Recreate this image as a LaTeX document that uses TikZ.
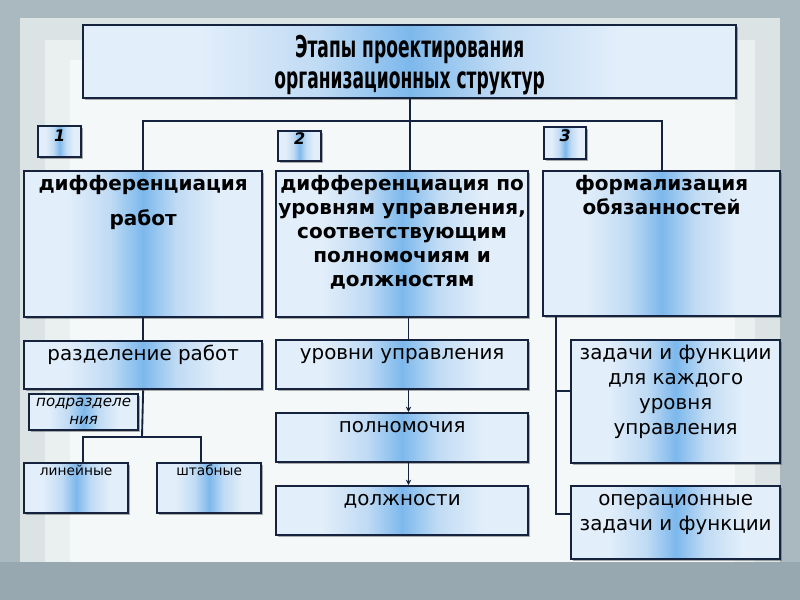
\documentclass[tikz,border=0pt]{standalone}
\usepackage{fontspec}
\setmainfont{DejaVu Sans}
\newfontfamily\titlefont[FakeStretch=0.57]{DejaVu Sans}
\usetikzlibrary{arrows.meta, shadows}

\definecolor{navy}{HTML}{15233F}
\definecolor{paleblue}{HTML}{E2EEFA}
\definecolor{softblue}{HTML}{C0DBF4}
\definecolor{deepblue}{HTML}{7DB8EC}
\definecolor{slategrey}{HTML}{AAB9BF}
\definecolor{bgmid}{HTML}{DCE3E5}
\definecolor{bglight}{HTML}{EAEFF0}
\definecolor{bgwhite}{HTML}{F5F8F9}
\definecolor{bgstrip}{HTML}{97A8B0}

\pgfdeclarehorizontalshading{streak}{100bp}{color(0bp)=(paleblue); color(25bp)=(paleblue); color(34bp)=(paleblue); color(43bp)=(softblue); color(50bp)=(deepblue); color(57bp)=(softblue); color(66bp)=(paleblue); color(75bp)=(paleblue); color(100bp)=(paleblue)}

\newlength\pxu
\setlength\pxu{0.75pt}
% box text, set from the top: [pad]{width}{height}{text}
\newcommand{\topbox}[4][2pt]{\parbox[c][#3\pxu][t]{#2\pxu}{\centering\vspace*{#1}#4}}
\newcommand{\headfont}{\bfseries\fontsize{15}{18}\selectfont\strut}
\newcommand{\bodyfont}{\fontsize{14.9}{18.75}\selectfont\strut}
\newcommand{\smallfont}{\fontsize{10.3}{13}\selectfont\strut}
\newcommand{\numfont}{\bfseries\itshape\fontsize{12}{14}\selectfont\strut}

\begin{document}
\begin{tikzpicture}[
    x=0.75pt, y=-0.75pt,
    panel/.style = {draw=navy, line width=1.7pt, shading=streak, inner sep=0pt, anchor=north west,
      drop shadow={shadow xshift=1.2pt, shadow yshift=-1.2pt, opacity=.45, fill=black!70}},
    link/.style = {draw=navy, line width=1.4pt},
    flow/.style = {link, -{Stealth[length=4pt, width=4pt]}}
  ]
  \useasboundingbox (0,0) rectangle (800,600);
  % slide background
  \fill[slategrey] (0,0) rectangle (800,600);
  \fill[bgmid] (20,18) rectangle (780,562);
  \fill[bglight] (45,40) rectangle (755,562);
  \fill[bgwhite] (70,60) rectangle (735,562);
  \fill[bgstrip] (0,562) rectangle (800,600);

  \node (title) [panel] at (82,24) {\parbox[c][73\pxu][c]{653\pxu}{\centering
      \titlefont\bfseries\fontsize{22.5}{23}\selectfont
      \vspace*{5pt}Этапы проектирования\\организационных структур}};

  \node (num1) [panel] at (37,125) {\topbox[1.5pt]{43}{31}{\numfont 1}};
  \node (num2) [panel] at (277,130) {\topbox[0pt]{43}{30}{\numfont 2}};
  \node (num3) [panel] at (543,126) {\topbox[1pt]{42}{32}{\numfont 3}};

  \node (diffwork) [panel] at (23,170) {\topbox{238}{146}{\headfont
      дифференциация\\[8pt]\strut работ}};
  \node (difflevel) [panel] at (275,170) {\topbox{252}{146}{\headfont
      дифференциация по\\уровням управления,\\соответствующим\\полномочиям и\\должностям}};
  \node (formal) [panel] at (542,170) {\topbox{237}{145}{\headfont
      формализация\\обязанностей}};

  \node (division) [panel] at (23,340) {\topbox[1.5pt]{238}{48}{\bodyfont разделение работ}};
  \node (subdiv) [panel] at (28,393) {\topbox[0pt]{109}{36}{\itshape\fontsize{11.3}{13.5}\selectfont
      \strut подразделе\\ния}};
  \node (linear) [panel] at (23,462) {\topbox[0.5pt]{104}{50}{\smallfont линейные}};
  \node (staff) [panel] at (156,462) {\topbox[0.5pt]{104}{50}{\smallfont штабные}};

  \node (levels) [panel] at (275,339) {\topbox[1.5pt]{252}{49}{\bodyfont уровни управления}};
  \node (powers) [panel] at (275,412) {\topbox[1.5pt]{252}{49}{\bodyfont полномочия}};
  \node (posts) [panel] at (275,485) {\topbox[1.5pt]{252}{49}{\bodyfont должности}};

  \node (tasks) [panel] at (570,339) {\topbox[1.5pt]{209}{123}{\bodyfont
      задачи и функции\\для каждого\\уровня\\управления}};
  \node (optasks) [panel] at (570,485) {\topbox[1.5pt]{209}{73}{\bodyfont
      операционные\\задачи и функции}};

  \coordinate (junc) at (408.5,121);
  \coordinate (split) at (142,437);
  \coordinate (rail) at (556,315);
  \coordinate (tasksin) at ([yshift=7.9pt]tasks.west);
  \coordinate (optasksin) at ([yshift=6.4pt]optasks.west);

  \begin{scope}[every path/.style=link]
    \path (title.south) -- (title.south |- difflevel.north);
    \path (diffwork.north) |- (junc) -| (formal.north);
    \path (diffwork.south) -- (division.north);
    \path (division.south) -- (split);
    \path ([xshift=5pt]linear.north) |- (split) -| ([xshift=-6pt]staff.north);
    \path (difflevel.south -| junc) -- (levels.north -| junc);
    \path[flow] (levels.south -| junc) -- (powers.north -| junc);
    \path[flow] (powers.south -| junc) -- (posts.north -| junc);
    \path (formal.south -| rail) |- (optasksin);
    \path (rail |- tasksin) -- (tasksin);
  \end{scope}
\end{tikzpicture}
\end{document}
